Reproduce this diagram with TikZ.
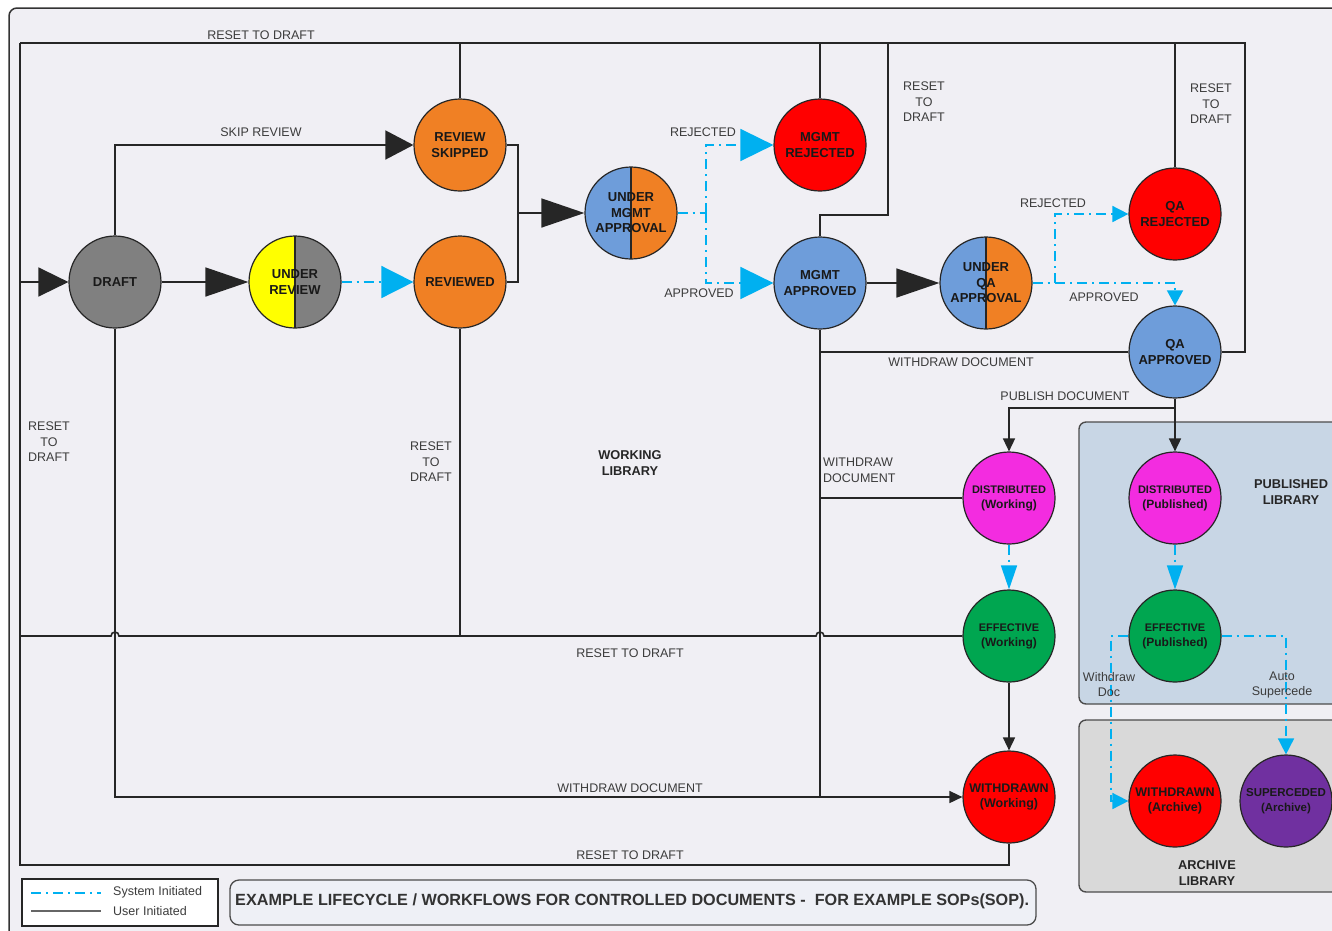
\documentclass[tikz,border=0pt]{standalone}
\usepackage{fontspec}
\setmainfont{Liberation Sans}
\usetikzlibrary{arrows.meta,calc}

\definecolor{pagebg}{RGB}{240,239,244}
\definecolor{cgray}{RGB}{128,128,128}
\definecolor{cyellow}{RGB}{255,255,0}
\definecolor{corange}{RGB}{240,128,36}
\definecolor{cblue}{RGB}{110,157,218}
\definecolor{cred}{RGB}{255,0,0}
\definecolor{cmag}{RGB}{243,44,224}
\definecolor{cgreen}{RGB}{0,166,80}
\definecolor{cpurple}{RGB}{112,48,160}
\definecolor{sysblue}{RGB}{0,176,240}
\definecolor{pubbg}{RGB}{200,214,229}
\definecolor{arcbg}{RGB}{217,217,217}
\definecolor{titlebg}{RGB}{238,240,246}
\definecolor{labtext}{RGB}{60,60,60}

\newcommand{\toplabel}[1]{{\fontsize{11}{14}\selectfont #1}}

\tikzset{
  st/.style={circle, draw=black!85, line width=1.2pt, minimum size=92pt,
    inner sep=0pt, align=center, text=black!90,
    font=\bfseries\fontsize{13}{15.5}\selectfont},
  halves/.style 2 args={path picture={
      \fill[#1] (path picture bounding box.south west) rectangle (path picture bounding box.north);
      \fill[#2] (path picture bounding box.south) rectangle (path picture bounding box.north east);
      \draw[black!85, line width=1.6pt] (path picture bounding box.north) -- (path picture bounding box.south);}},
  user/.style={draw=black!85, line width=1.6pt},
  sys/.style={draw=sysblue, line width=1.6pt, dash pattern=on 10pt off 5pt on 2pt off 5pt},
  bigarr/.style={-{Triangle[length=#1,width=29pt]}},
  bluearr/.style={-{Triangle[length=#1,width=32pt]}},
  midarr/.style={-{Triangle[length=#1,width=16pt]}},
  smallarr/.style={-{Triangle[length=13pt,width=12pt]}},
  lab/.style={font=\fontsize{12.5}{15.5}\selectfont, text=labtext, align=center, inner sep=0pt},
  liblab/.style={font=\bfseries\fontsize{12.8}{15.5}\selectfont, text=black!85, align=center, inner sep=0pt},
  small/.style={font=\fontsize{12.5}{15}\selectfont, text=labtext, align=center, inner sep=0pt},
  subline/.style={font=\bfseries\fontsize{12}{15}\selectfont},
}

\begin{document}
\begin{tikzpicture}[x=1pt,y=-1pt]
\useasboundingbox (0,0) rectangle (1332,930);

% page frame and library panels
\fill[white] (0,0) rectangle (1332,930);
\draw[fill=pagebg, draw=black!80, line width=1.5pt, rounded corners=8pt] (9,8) rectangle (1360,960);
\draw[fill=pubbg, draw=black!70, line width=1.4pt, rounded corners=7pt] (1079,422) rectangle (1360,704);
\draw[fill=arcbg, draw=black!70, line width=1.4pt, rounded corners=7pt] (1079,720) rectangle (1360,892);

% states
\node[st, fill=cgray] (dr) at (115,282) {DRAFT};
\node[st, halves={cyellow}{cgray}] (ur) at (295,282) {UNDER\\REVIEW};
\node[st, fill=corange] (rs) at (460,145) {REVIEW\\SKIPPED};
\node[st, fill=corange] (rv) at (460,282) {REVIEWED};
\node[st, halves={cblue}{corange}] (um) at (631,213) {UNDER\\MGMT\\APPROVAL};
\node[st, fill=cred] (mr) at (820,145) {MGMT\\REJECTED};
\node[st, fill=cblue] (ma) at (820,283) {MGMT\\APPROVED};
\node[st, halves={cblue}{corange}] (uq) at (986,283) {UNDER\\QA\\APPROVAL};
\node[st, fill=cred] (qr) at (1175,214) {QA\\REJECTED};
\node[st, fill=cblue] (qa) at (1175,352) {QA\\APPROVED};
\node[st, fill=cmag, subline] (dw) at (1009,498) {\toplabel{DISTRIBUTED}\\(Working)};
\node[st, fill=cmag, subline] (dp) at (1175,498) {\toplabel{DISTRIBUTED}\\(Published)};
\node[st, fill=cgreen, subline] (ew) at (1009,636) {\toplabel{EFFECTIVE}\\(Working)};
\node[st, fill=cgreen, subline] (ep) at (1175,636) {\toplabel{EFFECTIVE}\\(Published)};
\node[st, fill=cred, font=\bfseries\fontsize{12.5}{15.5}\selectfont] (ww) at (1009,797) {WITHDRAWN\\(Working)};
\node[st, fill=cred, font=\bfseries\fontsize{12.5}{15.5}\selectfont] (wa) at (1175,801) {WITHDRAWN\\(Archive)};
\node[st, fill=cpurple, font=\bfseries\fontsize{11.5}{15}\selectfont] (sa) at (1286,801) {SUPERCEDED\\(Archive)};

% junction points of the connectors
\coordinate (tl) at (20,43);
\coordinate (tr) at (1245,43);
\coordinate (bl) at (20,865);
\coordinate (j1) at (518,213);
\coordinate (j2) at (706,213);
\coordinate (j3) at (1055,283);
\coordinate (mab) at (888,215);
\coordinate (pj) at (1175,408);
\coordinate (wdc) at (1111,636);

% reset-to-draft loop
\draw[user] (tl) -- (tr) |- (qa.east);
\draw[user] (tl) -- (bl) -| (ww.south);
\draw[user] (rs.north) -- (rs.north |- tl);
\draw[user] (mr.north) -- (mr.north |- tl);
\draw[user] (qr.north) -- (qr.north |- tl);
\draw[user] (ma.north) |- (mab) -- (mab |- tl);
\draw[user, bigarr=30pt] (tl |- dr.west) -- (dr.west);
\draw[user] (rv.south) -- (rv.south |- ew.west);
\draw[user] (ew.west) -- ($(ma.south |- ew.west)+(4,0)$) arc (0:-180:4)
  -- ($(dr.south |- ew.west)+(4,0)$) arc (0:-180:4) -- (tl |- ew.west);

% forward flow
\draw[user, bigarr=28pt] (dr.north) |- (rs.west);
\draw[user, bigarr=43pt] (dr) -- (ur);
\draw[sys, bluearr=32pt] (ur) -- (rv);
\draw[user] (rs.east) -| (j1);
\draw[user] (rv.east) -| (j1);
\draw[user, bigarr=43pt] (j1) -- (um.west);
\draw[sys] (um.east) -- (j2);
\draw[sys, bluearr=33pt] (j2) |- (mr.west);
\draw[sys, bluearr=33pt] (j2) |- (ma.west);
\draw[user, bigarr=43pt] (ma) -- (uq);
\draw[sys] (uq.east) -- (j3);
\draw[sys, midarr=15pt] (j3) -| (qa.north);
\draw[sys, midarr=16pt] (j3) |- (qr.west);

% withdraw paths
\draw[user, smallarr] (dr.south) |- (ww.west);
\draw[user, line width=2.2pt] (ma.south |- ww.west) -- ($(ww.west)+(-12,0)$);
\draw[user] (ma.south) -- (ma.south |- ww.west);
\draw[user] (qa.west) -- (qa.west -| ma.south);
\draw[user] (dw.west) -- (dw.west -| ma.south);

% publishing
\draw[user] (qa.south) -- (pj);
\draw[user, smallarr] (pj) -| (dw.north);
\draw[user, smallarr] (pj) -- (dp.north);
\draw[sys, midarr=24pt] (dw) -- (ew);
\draw[sys, midarr=24pt] (dp) -- (ep);
\draw[user, smallarr] (ew) -- (ww);
\draw[sys, midarr=16pt] (ep.west) -- (wdc) |- (wa.west);
\draw[sys, midarr=16pt] (ep.east) -| (sa.north);

% connector labels
\node[lab] (l1) at (261,35) {RESET TO DRAFT};
\node[lab] (l2) at (261,132) {SKIP REVIEW};
\node[lab] (l3) at (703,132) {REJECTED};
\node[lab] (l4) at (699,293) {APPROVED};
\node[lab] (l5) at (924,102) {RESET\\TO\\DRAFT};
\node[lab] (l6) at (1211,104) {RESET\\TO\\DRAFT};
\node[lab] (l7) at (1053,203) {REJECTED};
\node[lab] (l8) at (1104,297) {APPROVED};
\node[lab] (l9) at (961,362) {WITHDRAW DOCUMENT};
\node[lab] (l10) at (1065,396) {PUBLISH DOCUMENT};
\node[lab] (l11) at (49,442) {RESET\\TO\\DRAFT};
\node[lab] (l12) at (431,462) {RESET\\TO\\DRAFT};
\node[lab, align=left, anchor=west] (l13) at (823,470) {WITHDRAW\\DOCUMENT};
\node[lab] (l14) at (630,653) {RESET TO DRAFT};
\node[small] (l15) at (1109,685) {Withdraw\\Doc};
\node[small] (l16) at (1282,685) {Auto\\Supercede};
\node[lab] (l17) at (630,788) {WITHDRAW DOCUMENT};
\node[lab] (l18) at (630,855) {RESET TO DRAFT};

% library captions
\node[liblab] (wl) at (630,463) {WORKING\\LIBRARY};
\node[liblab] (pl) at (1291,492) {PUBLISHED\\LIBRARY};
\node[liblab] (al) at (1207,873) {ARCHIVE\\LIBRARY};

% legend
\node[draw=black!85, fill=white, line width=1.3pt, minimum width=196pt, minimum height=47pt, inner sep=0pt] (leg) at (120,902.5) {};
\coordinate (ls1) at (31,893);
\coordinate (ls2) at (101,893);
\coordinate (lu1) at (31,911);
\coordinate (lu2) at (101,911);
\draw[sys, line width=2pt] (ls1) -- (ls2);
\draw[draw=black!60, line width=2.5pt] (lu1) -- (lu2);
\node[small, anchor=west, font=\fontsize{12.5}{14}\selectfont] (lt1) at (113,892) {System Initiated};
\node[small, anchor=west, font=\fontsize{12.5}{14}\selectfont] (lt2) at (113,911) {User Initiated};

% title
\node[draw=black!70, fill=titlebg, line width=1.3pt, rounded corners=9pt, minimum width=806pt, minimum height=45pt, inner sep=0pt] (tb) at (633,902.5) {};
\node[anchor=west, font=\bfseries\fontsize{16.2}{18}\selectfont, text=black!80, inner sep=0pt] (tt) at (235,901) {EXAMPLE LIFECYCLE / WORKFLOWS FOR CONTROLLED DOCUMENTS -\ \ FOR EXAMPLE SOPs(SOP).};
\end{tikzpicture}
\end{document}
